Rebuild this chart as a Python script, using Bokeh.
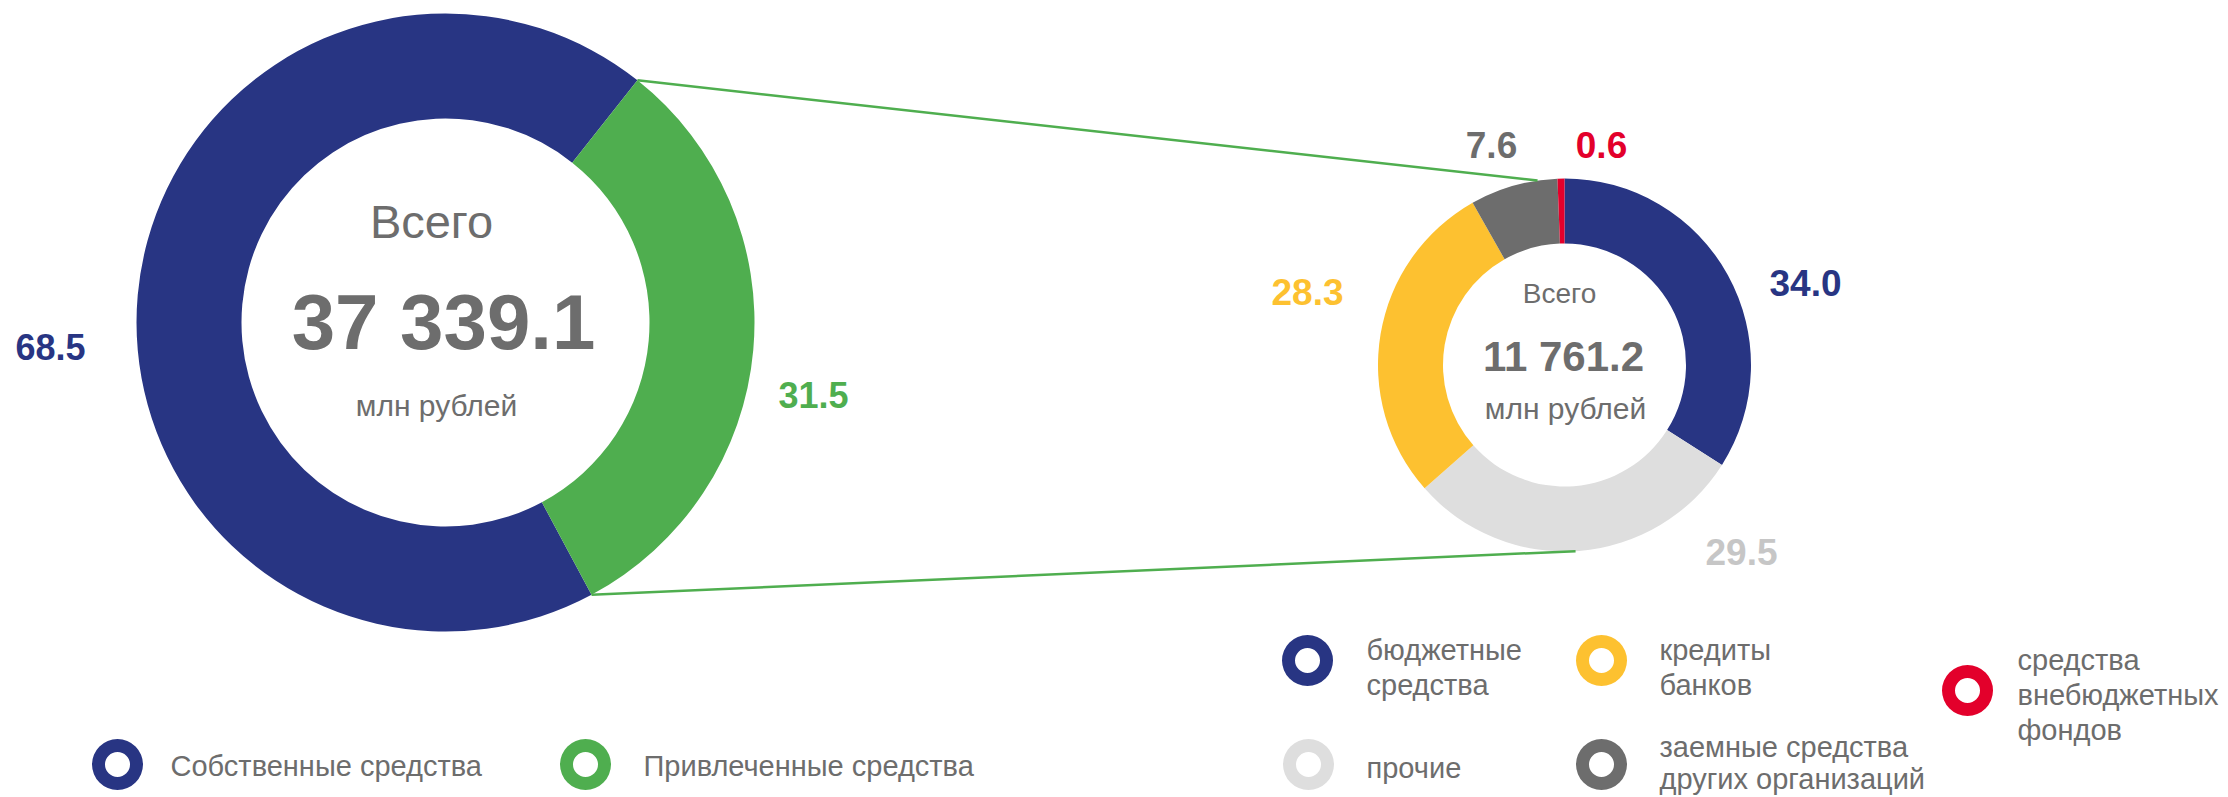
import numpy as np
from bokeh.plotting import figure
from bokeh.models import Range1d, ColumnDataSource
from bokeh.core.properties import value
from bokeh.embed import file_html
from bokeh.resources import INLINE

# ---------------- data ----------------
main_labels = ["Собственные средства", "Привлеченные средства"]
main_values = [68.5, 31.5]
main_total = "37 339.1"

sub_labels = ["бюджетные средства", "прочие", "кредиты банков",
              "заемные средства других организаций", "средства внебюджетных фондов"]
sub_values = [34.0, 29.5, 28.3, 7.6, 0.6]
sub_total = "11 761.2"

center_caption = "Всего"
unit_caption = "млн рублей"

# ---------------- styles ----------------
NAVY = "#283583"
GREEN = "#4fae4f"
YELLOW = "#fdc130"
LGRAY = "#dedede"
DGRAY = "#6d6d6d"
RED = "#e3002b"
TXT = "#6d6d6d"
FONT = value("Liberation Sans")

main_colors = [NAVY, GREEN]
sub_colors = [NAVY, LGRAY, YELLOW, DGRAY, RED]
sub_label_colors = [NAVY, "#c6c6c6", YELLOW, DGRAY, RED]

W, H = 2228, 797
p = figure(width=W, height=H, output_backend="svg", toolbar_location=None,
           x_range=Range1d(0, W), y_range=Range1d(0, H), min_border=0,
           outline_line_color=None, background_fill_color="white",
           border_fill_color="white")
p.axis.visible = False
p.grid.visible = False


def Y(v):
    # page pixel row -> data y
    return H - v


def donut(cx, cy, r_in, r_out, values, colors, start_deg):
    v = np.array(values, dtype=float)
    frac = v / v.sum() * 360.0
    t1 = start_deg + np.concatenate([[0], np.cumsum(frac)[:-1]])
    t2 = t1 + frac
    # clockwise-from-top degrees -> math angles (anticlockwise from +x)
    start = np.radians(90 - t2)
    end = np.radians(90 - t1)
    src = ColumnDataSource(dict(x=[cx] * len(v), y=[Y(cy)] * len(v),
                                s=start, e=end, c=colors))
    p.annular_wedge(x="x", y="y", inner_radius=r_in, outer_radius=r_out,
                    start_angle="s", end_angle="e", fill_color="c",
                    line_color=None, direction="anticlock", source=src)
    return t1, t2


def on_circle(cx, cy, r, theta_deg):
    t = np.radians(theta_deg)
    return cx + r * np.sin(t), Y(cy - r * np.cos(t))


# ---------------- main donut ----------------
MCX, MCY, MRI, MRO = 445, 322, 204, 309
mt1, mt2 = donut(MCX, MCY, MRI, MRO, main_values, main_colors, 151.8)

# ---------------- sub donut ----------------
SCX, SCY, SRI, SRO = 1564, 364.5, 121.5, 186.5
donut(SCX, SCY, SRI, SRO, sub_values, sub_colors, 0.0)

# connector lines (from the edges of the "Привлеченные" slice)
a0 = on_circle(MCX, MCY, MRO, mt1[1])
a1 = on_circle(MCX, MCY, MRO, mt2[1])
b0 = on_circle(SCX, SCY, SRO, 351.7)
b1 = on_circle(SCX, SCY, SRO, 176.6)
p.segment(x0=[a0[0], a1[0]], y0=[a0[1], a1[1]], x1=[b0[0], b1[0]], y1=[b0[1], b1[1]],
          line_color=GREEN, line_width=2.5)

# ---------------- centre texts ----------------
def txt(x, y, s, size, color, bold=False, align="center"):
    p.text(x=[x], y=[Y(y)], text=[s], text_font=FONT, text_font_size=f"{size}px",
           text_font_style="bold" if bold else "normal", text_color=color,
           text_align=align, text_baseline="middle")

txt(431, 221, center_caption, 47, TXT)
txt(443, 321, main_total, 78, TXT, bold=True)
txt(436, 405, unit_caption, 30, TXT)

txt(1559, 293, center_caption, 28, TXT)
txt(1563, 356, sub_total, 42, TXT, bold=True)
txt(1565, 408, unit_caption, 30, TXT)

# ---------------- value labels ----------------
main_label_pos = [(50, 346), (813, 394)]
for (x, y), v, c in zip(main_label_pos, main_values, main_colors):
    txt(x, y, f"{v:.1f}", 36, c, bold=True)

sub_label_pos = [(1805, 282), (1741, 551), (1307, 291), (1491, 144), (1601, 144)]
for (x, y), v, c in zip(sub_label_pos, sub_values, sub_label_colors):
    txt(x, y, f"{v:.1f}", 37, c, bold=True)

# ---------------- legends ----------------
def ring(x, y, color):
    p.annulus(x=[x], y=[Y(y)], inner_radius=12.5, outer_radius=25.5,
              fill_color=color, line_color=None)

main_leg = [(117, 764, 170, [765]), (585, 764, 643, [765])]
for (rx, ry, tx, ys), lab, c in zip(main_leg, main_labels, main_colors):
    ring(rx, ry, c)
    txt(tx, ys[0], lab, 29, TXT, align="left")

sub_leg_lines = [["бюджетные", "средства"], ["прочие"], ["кредиты", "банков"],
                 ["заемные средства", "других организаций"],
                 ["средства", "внебюджетных", "фондов"]]
sub_leg = [(1307, 660, 1366, [649, 684]), (1308, 764, 1366, [767]),
           (1601, 660, 1659, [649, 684]), (1601, 764, 1659, [746, 778]),
           (1967, 690, 2017, [659, 694, 729])]
for (rx, ry, tx, ys), lines, c in zip(sub_leg, sub_leg_lines, sub_colors):
    ring(rx, ry, c)
    for yy, line in zip(ys, lines):
        txt(tx, yy, line, 29, TXT, align="left")

open("out.html", "w").write(file_html(p, INLINE))
